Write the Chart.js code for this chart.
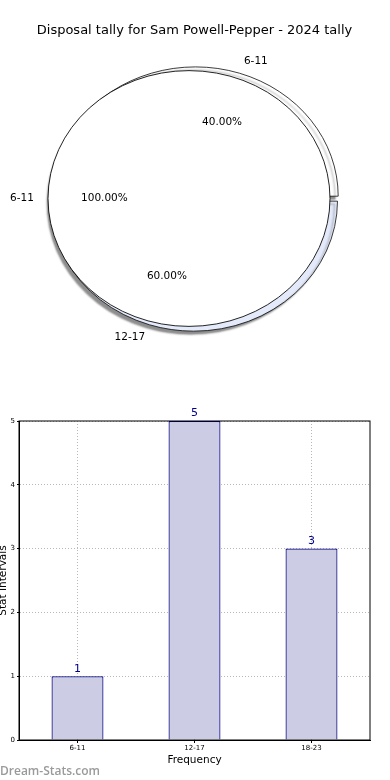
<!DOCTYPE html>
<html>
<head>
<meta charset="utf-8">
<script src="https://cdn.jsdelivr.net/npm/chart.js@4/dist/chart.umd.min.js"></script>
<style>
  body { margin: 0; background: #fff; width: 390px; height: 780px; position: relative; overflow: hidden; }
  .box { position: absolute; left: 0; width: 390px; }
  #watermark { position: absolute; left: 0; top: 762px; font: 600 12px "Open Sans", sans-serif; color: #9a9a9a; }
</style>
</head>
<body>
<div class="box" style="top:0;height:390px"><canvas id="pieBack"></canvas></div>
<div class="box" style="top:0;height:390px"><canvas id="pieFront"></canvas></div>
<div class="box" style="top:390px;height:390px"><canvas id="bars"></canvas></div>
<div id="watermark">Dream-Stats.com</div>
<script>
// data
const titleText = 'Disposal tally for Sam Powell-Pepper - 2024 tally';
const pieOuterLabels = ['6-11'];
const pieOuterValues = [100];
const pieSplitLabels = ['6-11', '12-17'];
const pieSplitValues = [40, 60];
const barCategories = ['6-11', '12-17', '18-23'];
const barValues = [1, 5, 3];
const yTicks = [0, 1, 2, 3, 4, 5];

Chart.defaults.font.family = '"DejaVu Sans", sans-serif';
Chart.defaults.color = '#000';
Chart.defaults.animation = false;

const SY = 0.907;       // matplotlib pie came out as an ellipse
const explodePx = 4.3;

// chart.js arc offset is /4 and doubled for arcs >= 180deg
function arcShift(arc) {
  const off = (arc.options.offset || 0) / 4;
  const fix = 1 - Math.sin(Math.min(Math.PI, arc.circumference || 0));
  return off * (1 + fix);
}

const splitTotal = pieSplitValues.reduce((a, b) => a + b, 0);
const splitOffsets = pieSplitValues.map(v => {
  const c = v / splitTotal * 2 * Math.PI;
  return explodePx * 4 / (2 - Math.sin(Math.min(Math.PI, c)));
});

const ellipse = {
  id: 'ellipse',
  beforeDatasetsDraw(chart, args, opts) {
    const arc = chart.getDatasetMeta(0).data[0];
    const ctx = chart.ctx;
    ctx.save();
    ctx.translate(arc.x, arc.y);
    ctx.scale(1, SY);
    ctx.translate(-arc.x, -arc.y);
    if (opts.shadow) {
      ctx.shadowColor = 'rgba(0,0,0,0.45)';
      ctx.shadowOffsetX = -3;
      ctx.shadowOffsetY = 3;
      ctx.shadowBlur = 2;
    }
  },
  afterDatasetsDraw(chart, args, opts) {
    const ctx = chart.ctx;
    if (opts.outline) {
      // single 100% slice: stroke only the rim, no radius line
      const arc = chart.getDatasetMeta(0).data[0];
      ctx.beginPath();
      ctx.arc(arc.x, arc.y, arc.outerRadius, 0, Math.PI * 2);
      ctx.lineWidth = 0.9;
      ctx.strokeStyle = '#000';
      ctx.stroke();
    }
    ctx.restore();
  }
};

function drawPieText(ctx, chart, labels, values) {
  const total = values.reduce((a, b) => a + b, 0);
  chart.getDatasetMeta(0).data.forEach((arc, i) => {
    const mid = (arc.startAngle + arc.endAngle) / 2;
    const t = arcShift(arc);
    const R = arc.outerRadius;
    const c = Math.cos(mid), s = Math.sin(mid);
    ctx.textBaseline = 'middle';
    ctx.textAlign = c > 0 ? 'left' : 'right';
    ctx.fillText(labels[i], arc.x + (t + 1.1 * R) * c, arc.y + SY * (t + 1.1 * R) * s);
    ctx.textAlign = 'center';
    ctx.fillText((values[i] / total * 100).toFixed(2) + '%', arc.x + (t + 0.6 * R) * c, arc.y + SY * (t + 0.6 * R) * s);
  });
}

const backChart = new Chart(document.getElementById('pieBack'), {
  type: 'pie',
  data: {
    labels: pieSplitLabels,
    datasets: [{
      data: pieSplitValues,
      backgroundColor: ['#ffffff', '#e4eafa'],
      borderColor: '#000',
      borderWidth: 0.8,
      offset: splitOffsets
    }]
  },
  options: {
    responsive: true,
    maintainAspectRatio: false,
    rotation: -54,
    radius: 141.5,
    layout: { padding: { top: 0, right: 1, bottom: 30.6, left: 0 } },
    plugins: {
      legend: { display: false },
      tooltip: { enabled: false },
      title: {
        display: true,
        text: titleText,
        font: { size: 13, weight: 'normal' },
        color: '#000',
        padding: { top: 23, bottom: 0 }
      },
      ellipse: { shadow: true }
    }
  },
  plugins: [ellipse]
});

new Chart(document.getElementById('pieFront'), {
  type: 'pie',
  data: {
    labels: pieOuterLabels,
    datasets: [{
      data: pieOuterValues,
      backgroundColor: '#ffffff',
      borderWidth: 0
    }]
  },
  options: {
    responsive: true,
    maintainAspectRatio: false,
    rotation: 90,
    radius: 141,
    layout: { padding: { top: 37.6, right: 12, bottom: 30.6, left: 0 } },
    plugins: { legend: { display: false }, tooltip: { enabled: false }, ellipse: { shadow: false, outline: true } }
  },
  plugins: [ellipse, {
    id: 'pieText',
    afterDraw(chart) {
      const ctx = chart.ctx;
      ctx.save();
      ctx.font = '10.5px "DejaVu Sans", sans-serif';
      ctx.fillStyle = '#000';
      drawPieText(ctx, backChart, pieSplitLabels, pieSplitValues);
      drawPieText(ctx, chart, pieOuterLabels, pieOuterValues);
      ctx.restore();
    }
  }]
});

// bar chart
const frame = {
  id: 'frame',
  afterDatasetsDraw(chart) {
    const { ctx, chartArea: a } = chart;
    ctx.save();
    ctx.strokeStyle = '#000';
    ctx.lineWidth = 1;
    ctx.strokeRect(a.left, a.top, a.right - a.left, a.bottom - a.top);
    ctx.restore();
  }
};

const barValueLabels = {
  id: 'barValueLabels',
  afterDatasetsDraw(chart) {
    const ctx = chart.ctx;
    ctx.save();
    ctx.font = '11px "DejaVu Sans", sans-serif';
    ctx.fillStyle = '#00008b';
    ctx.textAlign = 'center';
    ctx.textBaseline = 'bottom';
    chart.getDatasetMeta(0).data.forEach((bar, i) => {
      ctx.fillText(String(barValues[i]), bar.x, bar.y - 2);
    });
    ctx.restore();
  }
};

new Chart(document.getElementById('bars'), {
  type: 'bar',
  data: {
    labels: barCategories,
    datasets: [{
      data: barValues,
      backgroundColor: '#ccccE4',
      borderColor: '#000080',
      borderWidth: 1.2,
      barPercentage: 0.444,
      categoryPercentage: 1
    }]
  },
  options: {
    responsive: true,
    maintainAspectRatio: false,
    layout: { padding: { top: 31, right: 20, bottom: 0, left: 0 } },
    plugins: { legend: { display: false }, tooltip: { enabled: false } },
    scales: {
      x: {
        afterFit(scale) { scale.height = 40; },
        grid: { offset: false, color: '#b8b8b8', drawTicks: true, tickLength: 3, tickColor: '#000' },
        border: { color: '#000', dash: [1, 2] },
        ticks: { font: { size: 7 }, padding: 1, color: '#000' },
        title: { display: true, text: 'Frequency', font: { size: 10.5 }, color: '#000', padding: { top: 0, bottom: 13.7 } }
      },
      y: {
        min: 0,
        max: yTicks[yTicks.length - 1],
        afterFit(scale) { scale.width = 19; },
        afterBuildTicks(scale) { scale.ticks = yTicks.map(v => ({ value: v })); },
        grid: { color: '#b8b8b8', drawTicks: true, tickLength: 2, tickColor: '#000' },
        border: { color: '#000', dash: [1, 2] },
        ticks: { font: { size: 7 }, padding: 2, color: '#000' },
        title: { display: true, text: 'Stat Intervals', font: { size: 10.5 }, color: '#000', padding: { top: -3, bottom: 0 } }
      }
    }
  },
  plugins: [frame, barValueLabels]
});
</script>
</body>
</html>
